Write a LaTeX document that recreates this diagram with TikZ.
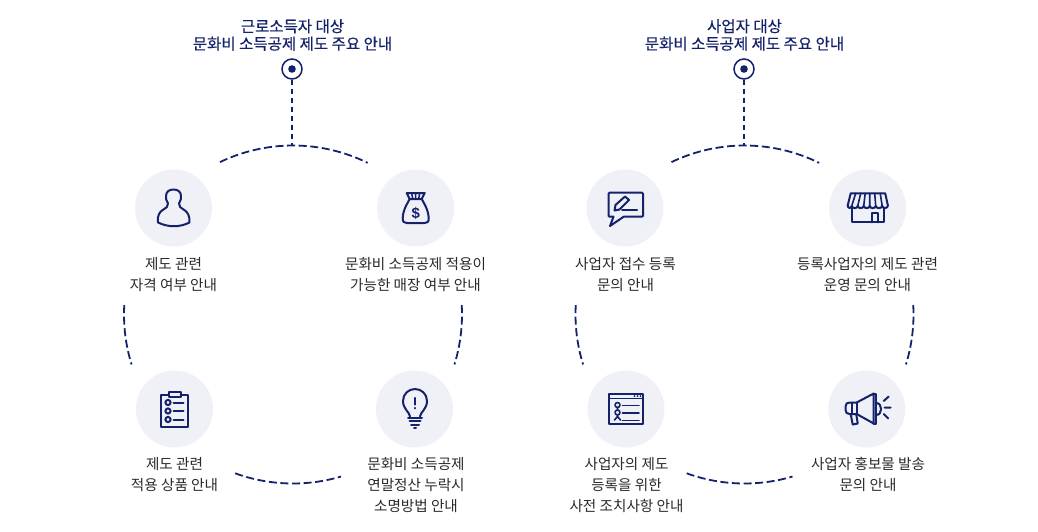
\documentclass[tikz,border=0pt]{standalone}
\usepackage{fontspec}
\setmainfont{Noto Sans CJK KR}
\newfontfamily\titlefont[FakeBold=0.35]{Noto Sans CJK KR}
\newfontfamily\latinfont{Liberation Sans}
\definecolor{navy}{HTML}{14216B}
\definecolor{pale}{HTML}{F0F1F7}
\definecolor{ink}{HTML}{2A2A2A}
\tikzset{
  bubble/.style={circle,fill=pale,minimum size=77pt,inner sep=0pt},
  caption/.style={align=center,text=ink,font=\fontsize{14.6}{21}\selectfont,inner sep=0pt,anchor=north},
  headline/.style={align=center,text=navy,font=\fontsize{15.5}{17.5}\selectfont\titlefont,inner sep=0pt},
  pinmark/.style={circle,draw=navy,line width=1.5pt,fill=white,minimum size=20pt,inner sep=0pt},
  route/.style={draw=navy,line width=1.8pt,dash pattern=on 8pt off 3.6pt},
  stem/.style={draw=navy,line width=1.8pt,dash pattern=on 5.5pt off 3.5pt},
  glyph/.style={draw=navy,line width=2pt,line join=round,line cap=round},
}
\newcommand{\pdot}[1]{\fill[navy] (#1) circle (3.8);}
\newcommand{\ringarcs}[1]{%
  \draw[route] ([shift={(-115.6:169)}]#1) arc[start angle=-115.6,end angle=-63.8,radius=169];
  \draw[route] ([shift={(183.2:169)}]#1) arc[start angle=183.2,end angle=162.8,radius=169];
  \draw[route] ([shift={(-3.2:169)}]#1) arc[start angle=-3.2,end angle=17.2,radius=169];
  \draw[route] ([shift={(110:169)}]#1) arc[start angle=110,end angle=73.5,radius=169];
}
\begin{document}
\begin{tikzpicture}[x=1pt,y=-1pt]
\useasboundingbox (0,0) rectangle (1038,532);
\fill[white] (0,0) rectangle (1038,532);
% left group
\node[headline] (titleL) at (292.5,35) {근로소득자 대상\\문화비 소득공제 제도 주요 안내};
\node[pinmark] (pinL) at (292,69) {};
\pdot{pinL}
\coordinate (hubL) at (293,314.5);
\coordinate (topL) at (292,145.5);
\draw[stem] (pinL) -- (topL);
\ringarcs{hubL}
\node[bubble] (a1) at (173.5,208) {};
\node[bubble] (a2) at (415.7,208) {};
\node[bubble] (a3) at (174.5,409) {};
\node[bubble] (a4) at (414.5,409) {};
\node[caption] (ta1) at (173.5,257) {제도 관련\\자격 여부 안내};
\node[caption] (ta2) at (415.5,257) {문화비 소득공제 적용이\\가능한 매장 여부 안내};
\node[caption] (ta3) at (174.5,457.5) {제도 관련\\적용 상품 안내};
\node[caption] (ta4) at (416,457.5) {문화비 소득공제\\연말정산 누락시\\소명방법 안내};
% right group
\node[headline] (titleR) at (744.5,35) {사업자 대상\\문화비 소득공제 제도 주요 안내};
\node[pinmark] (pinR) at (744,69) {};
\pdot{pinR}
\coordinate (hubR) at (744.5,314.5);
\coordinate (topR) at (744,145.5);
\draw[stem] (pinR) -- (topR);
\ringarcs{hubR}
\node[bubble] (b1) at (625,208) {};
\node[bubble] (b2) at (867.7,208) {};
\node[bubble] (b3) at (626,409) {};
\node[bubble] (b4) at (866.7,409) {};
\node[caption] (tb1) at (625.5,257) {사업자 접수 등록\\문의 안내};
\node[caption] (tb2) at (867.5,257) {등록사업자의 제도 관련\\운영 문의 안내};
\node[caption] (tb3) at (626.5,457.5) {사업자의 제도\\등록을 위한\\사전 조치사항 안내};
\node[caption] (tb4) at (868,457.5) {사업자 홍보물 발송\\문의 안내};
% person
\begin{scope}[shift={(a1.center)}]
\draw[glyph] (-15.5,14.5) .. controls (-16.5,8) and (-14,3.5) .. (-10,1.5) .. controls (-7,0) and (-5.5,-1.5) .. (-5.5,-4.5) .. controls (-7.5,-7) and (-7.5,-10) .. (-7.5,-12) .. controls (-7.5,-16.5) and (-4,-18.5) .. (0,-18.5) .. controls (4,-18.5) and (7.5,-16.5) .. (7.5,-12) .. controls (7.5,-10) and (7.5,-7) .. (5.5,-4.5) .. controls (5.5,-1.5) and (7,0) .. (10,1.5) .. controls (14,3.5) and (16.5,8) .. (16,14.5) .. controls (6,19.5) and (-5,19.5) .. (-15.5,14.5) -- cycle;
\end{scope}
% money bag
\begin{scope}[shift={(a2.center)}]
\draw[glyph] (-9,-15) -- (9,-15) -- (6,-9) -- (-6,-9) -- cycle;
\draw[glyph,line width=1.5pt] (-4,-15) -- (-3,-9) (0,-15) -- (0,-9) (4,-15) -- (3,-9);
\draw[glyph] (-6,-9) .. controls (-8,-5) and (-12.5,1) .. (-13,10) .. controls (-13.2,14) and (-11.5,15) .. (-9,15) -- (9,15) .. controls (11.5,15) and (13.2,14) .. (13,10) .. controls (12.5,1) and (8,-5) .. (6,-9);
\node[text=navy,inner sep=0pt,font=\fontsize{15}{15}\selectfont\latinfont\bfseries] (dollar) at (0,5.5) {\$};
\end{scope}
% clipboard
\begin{scope}[shift={(a3.center)}]
\draw[glyph] (-6,-14.5) -- (-13.5,-14.5) -- (-13.5,18) -- (13.5,18) -- (13.5,-14.5) -- (6,-14.5);
\draw[glyph] (-6,-17.5) rectangle (6,-12);
\draw[glyph] (-6.5,-6.5) circle (2.6) (-6.5,2) circle (2.6) (-6.5,10.5) circle (2.6);
\draw[glyph] (-1,-6.5) -- (9,-6.5) (-1,2) -- (9,2) (-1,10.5) -- (9,10.5);
\end{scope}
% bulb
\begin{scope}[shift={(a4.center)}]
\draw[glyph] (-4.5,7.5) .. controls (-5,3) and (-11.5,0) .. (-11.5,-8) .. controls (-11.5,-15) and (-6,-20) .. (0.5,-20) .. controls (7,-20) and (12.5,-15) .. (12.5,-8) .. controls (12.5,0) and (6,3) .. (5.5,7.5);
\draw[glyph,line width=2.2pt] (0.5,-11) -- (0.5,-4.5) (0.5,-1) -- (0.5,-0.6);
\draw[glyph] (-6.5,8.5) -- (7.5,8.5) (-5,12) -- (6,12) (-3.5,15.5) -- (4.5,15.5) (-0.5,19) -- (1.5,19);
\end{scope}
% speech bubble with pen
\begin{scope}[shift={(b1.center)}]
\draw[glyph] (-1.3,8.7) -- (17,8.7) .. controls (17.7,8.7) and (18,8.4) .. (18,7.7) -- (18,-14.3) .. controls (18,-15) and (17.7,-15.3) .. (17,-15.3) -- (-15.5,-15.3) .. controls (-16.2,-15.3) and (-16.5,-15) .. (-16.5,-14.3) -- (-16.5,7.7) .. controls (-16.5,8.4) and (-16.2,8.7) .. (-15.5,8.7) -- (-11.5,8.7) -- (-15,18) -- cycle;
\draw[glyph] (-10.5,2.5) -- (-9.5,-3) -- (0,-11.5) -- (4,-8) -- (-5.5,1.5) -- cycle;
\draw[glyph] (-3,2) -- (12,2);
\end{scope}
% store
\begin{scope}[shift={(b2.center)}]
\draw[glyph] (-17,-14.7) -- (17.5,-14.7) -- (20.2,-2.5) .. controls (20,0.8) and (15,0.8) .. (14.5,-2) .. controls (14,0.8) and (8.5,0.8) .. (8,-2) .. controls (7.5,0.8) and (2.5,0.8) .. (2,-2) .. controls (1.5,0.8) and (-3.5,0.8) .. (-4,-2) .. controls (-4.5,0.8) and (-9.5,0.8) .. (-10,-2) .. controls (-10.5,0.8) and (-15.5,0.8) .. (-16,-2) .. controls (-16.5,0.8) and (-20,0.5) .. (-20,-2.5) -- cycle;
\draw[glyph,line width=1.6pt] (-12,-14.7) -- (-16,-2) (-7,-14.7) -- (-10,-2) (-2.5,-14.7) -- (-4,-2) (2,-14.7) -- (2,-2) (7,-14.7) -- (8,-2) (12.5,-14.7) -- (14.5,-2);
\draw[glyph] (-15.7,0) -- (-15.7,14.3) -- (16,14.3) -- (16,0);
\draw[glyph] (4.3,14.3) -- (4.3,5.3) -- (10.3,5.3) -- (10.3,14.3);
\end{scope}
% window
\begin{scope}[shift={(b3.center)}]
\draw[glyph,line cap=butt] (-17.3,-15) rectangle (17,15.3);
\draw[glyph,line cap=butt,line width=1.6pt] (-17.3,-10.7) -- (17,-10.7);
\fill[navy] (8.5,-12.9) circle (1) (11.5,-12.9) circle (1) (14.5,-12.9) circle (1);
\draw[glyph,line width=1.6pt] (-8.5,-4) circle (2.5) (-8.5,3.5) circle (2.5);
\draw[glyph,line width=1.6pt] (-8.5,6) -- (-8.5,7.5) -- (-11.5,11) (-8.5,7.5) -- (-5.5,11) (-8.5,-1.5) -- (-8.5,1);
\draw[glyph,line width=1.6pt] (-3.5,-3.5) -- (13,-3.5) (-3.5,4) -- (13,4) (-3.5,11.5) -- (13,11.5);
\end{scope}
% megaphone
\begin{scope}[shift={(b4.center)}]
\draw[glyph] (-10,-6.5) -- (-17,-6.5) .. controls (-20,-6.5) and (-21,-5) .. (-21,-3) -- (-21,1.5) .. controls (-21,3.5) and (-20,5) .. (-17,5) -- (-10,5) -- (7,14.5) -- (7,-15.5) -- cycle;
\draw[glyph] (7,-15.5) -- (9.5,-15.5) -- (9.5,14.5) -- (7,14.5);
\draw[glyph] (-10,-6.5) -- (-10,5) (-15,-6.5) -- (-15,5);
\draw[glyph] (-16,5) -- (-14,15.5) -- (-9,14.5) -- (-10.5,5);
\draw[glyph] (9.5,-6) .. controls (16,-6) and (16,6) .. (9.5,6);
\draw[glyph] (17,-8) -- (22,-12.5) (18,-1.5) -- (24,-1.5) (17,5) -- (21.5,9.5);
\end{scope}
\end{tikzpicture}
\end{document}
